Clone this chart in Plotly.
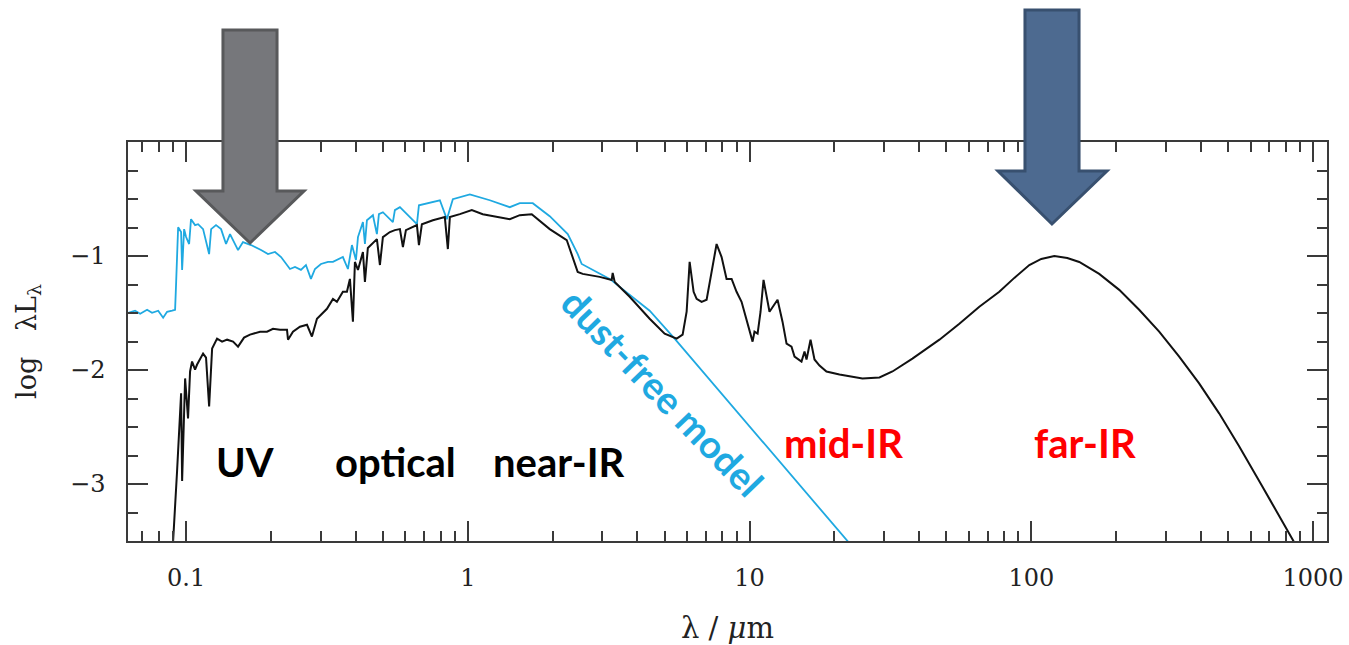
import numpy as np
import plotly.graph_objects as go

# ---- data (wavelength in micron, log lambda*L_lambda) ----
dustfree_wl = [0.0623, 0.0659, 0.0687, 0.0727, 0.0757, 0.0796, 0.0829, 0.0856, 0.0892, 0.0914,
               0.0922, 0.0937, 0.0960, 0.0968, 0.0984, 0.1000, 0.1025, 0.1041, 0.1076, 0.1103,
               0.1149, 0.1168, 0.1207, 0.1227, 0.1277, 0.1331, 0.1386, 0.1432, 0.1529, 0.1592,
               0.1700, 0.1845, 0.1953, 0.2068, 0.2173, 0.2337, 0.2435, 0.2556, 0.2663, 0.2774,
               0.2867, 0.3011, 0.3189, 0.3321, 0.3602, 0.3753, 0.3878, 0.4008, 0.4074, 0.4243,
               0.4313, 0.4384, 0.4604, 0.4756, 0.4835, 0.4995, 0.5420, 0.5509, 0.5740, 0.6596,
               0.6706, 0.7958, 0.8424, 0.8847, 1.0165, 1.197, 1.409, 1.529, 1.700, 1.953,
               2.263, 2.455, 2.536, 3.188, 4.420, 5.420, 7.215, 21.72, 23.0]
dustfree_logL = [-1.498, -1.480, -1.507, -1.472, -1.498, -1.480, -1.541, -1.489, -1.480, -1.472,
                 -1.227, -0.747, -0.790, -1.122, -0.764, -0.834, -0.895, -0.677, -0.729, -0.721,
                 -0.764, -0.834, -0.983, -0.764, -0.729, -0.764, -0.895, -0.808, -0.948, -0.878,
                 -0.904, -0.948, -0.983, -0.965, -1.009, -1.114, -1.096, -1.122, -1.079, -1.201,
                 -1.114, -1.070, -1.052, -1.052, -1.009, -1.114, -0.904, -1.035, -0.834, -0.703,
                 -0.895, -0.686, -0.642, -0.808, -0.633, -0.616, -0.703, -0.598, -0.572, -0.721,
                 -0.555, -0.511, -0.677, -0.502, -0.459, -0.511, -0.572, -0.537, -0.537, -0.651,
                 -0.808, -0.983, -1.070, -1.201, -1.480, -1.725, -2.083, -3.472, -3.541]

dusty_wl = [0.0880, 0.0899, 0.0929, 0.0952, 0.0960, 0.0968, 0.0984, 0.0992, 0.1016, 0.1033,
            0.1050, 0.1076, 0.1094, 0.1121, 0.1149, 0.1177, 0.1207, 0.1237, 0.1288, 0.1342,
            0.1398, 0.1468, 0.1529, 0.1606, 0.1686, 0.1830, 0.1937, 0.2035, 0.2154, 0.2281,
            0.2300, 0.2395, 0.2536, 0.2686, 0.2797, 0.2914, 0.3036, 0.3162, 0.3321, 0.3431,
            0.3602, 0.3723, 0.3815, 0.3878, 0.3910, 0.3974, 0.4074, 0.4243, 0.4313, 0.4417,
            0.4566, 0.4756, 0.4875, 0.4995, 0.5289, 0.5509, 0.5740, 0.5883, 0.6029, 0.6596,
            0.6706, 0.6870, 0.7515, 0.8286, 0.8494, 0.8634, 0.9368, 0.9919, 1.033, 1.130,
            1.409, 1.529, 1.686, 1.953, 2.244, 2.455, 2.557, 2.938, 3.241, 3.267,
            3.321, 3.754, 4.420, 4.995, 5.511, 5.787, 5.979, 6.128, 6.330, 6.489,
            6.757, 7.040, 7.331, 7.638, 7.957, 8.287, 8.636, 8.992, 9.367, 10.0,
            10.25, 10.41, 10.68, 10.94, 11.21, 11.77, 12.57, 13.09, 13.53, 14.09,
            14.44, 15.29, 15.67, 15.93, 16.46, 17.00, 17.71, 18.75, 20.85, 25.16,
            28.91, 32.15, 37.85, 47.20, 55.55, 65.40, 77.0, 87.05, 98.4, 108.5,
            120.7, 134.2, 148.0, 174.2, 205.2, 241.5, 284.4, 334.9, 394.2, 464.2,
            546.6, 659.4, 757.5, 870.8]
dusty_logL = [-3.60, -3.507, -2.886, -2.275, -2.205, -2.974, -2.188, -2.074, -2.424, -2.013,
              -1.926, -1.996, -1.952, -1.908, -1.856, -1.891, -2.319, -1.812, -1.725, -1.751,
              -1.734, -1.751, -1.795, -1.716, -1.690, -1.664, -1.664, -1.638, -1.646, -1.646,
              -1.734, -1.664, -1.620, -1.603, -1.707, -1.550, -1.507, -1.463, -1.376, -1.402,
              -1.314, -1.314, -1.201, -1.402, -1.576, -1.052, -1.122, -0.965, -1.227, -0.930,
              -0.895, -0.852, -1.079, -0.834, -0.790, -0.773, -0.764, -0.921, -0.773, -0.729,
              -0.904, -0.721, -0.686, -0.659, -0.939, -0.659, -0.633, -0.616, -0.598, -0.633,
              -0.677, -0.642, -0.633, -0.764, -0.860, -1.140, -1.157, -1.183, -1.210, -1.148,
              -1.227, -1.358, -1.550, -1.681, -1.725, -1.690, -1.489, -1.052, -1.314, -1.376,
              -1.402, -1.384, -1.140, -0.895, -1.009, -1.201, -1.201, -1.314, -1.402, -1.646,
              -1.751, -1.664, -1.681, -1.489, -1.210, -1.489, -1.384, -1.576, -1.769, -1.795,
              -1.882, -1.926, -1.838, -1.908, -1.734, -1.908, -1.961, -2.013, -2.039, -2.074,
              -2.066, -2.013, -1.900, -1.734, -1.594, -1.445, -1.314, -1.192, -1.079, -1.026,
              -1.000, -1.017, -1.052, -1.157, -1.297, -1.472, -1.664, -1.882, -2.118, -2.380,
              -2.668, -3.017, -3.279, -3.541]

x_tickvals = [0.1, 1, 10, 100, 1000]
x_ticktext = ["0.1", "1", "10", "100", "1000"]
y_tickvals = [-1, -2, -3]
y_ticktext = ["\u22121", "\u22122", "\u22123"]

x_minor = [m * 10.0 ** e for e in range(-2, 4) for m in range(2, 10)]
x_minor = [v for v in x_minor if 0.062 < v < 1121]
y_minor = [v for v in np.arange(-3.5, 0.01, 0.25) if abs(v - round(v)) > 1e-6]

CYAN = "#1fa9e1"

fig = go.Figure()
fig.add_trace(go.Scatter(x=dustfree_wl, y=dustfree_logL, mode="lines",
                         line=dict(color=CYAN, width=1.8), hoverinfo="skip", showlegend=False))
fig.add_trace(go.Scatter(x=dusty_wl, y=dusty_logL, mode="lines",
                         line=dict(color="#111111", width=2), hoverinfo="skip", showlegend=False))

axis_common = dict(showline=True, linecolor="#3a3a3a", linewidth=1.5, mirror="ticks",
                   ticks="inside", ticklen=20, tickwidth=1.5, tickcolor="#3a3a3a",
                   showgrid=False, zeroline=False,
                   tickfont=dict(family="DejaVu Serif", size=24, color="#222"))

fig.update_xaxes(type="log", range=[np.log10(0.0622), np.log10(1121)],
                 tickmode="array", tickvals=x_tickvals, ticktext=x_ticktext,
                 ticklabelstandoff=14,
                 minor=dict(tickmode="array", tickvals=x_minor, ticks="inside", ticklen=10,
                            tickwidth=1.5, tickcolor="#3a3a3a"),
                 title=dict(text="\u03bb / <i>\u03bc</i>m", standoff=30,
                            font=dict(family="DejaVu Serif", size=29, color="#222")),
                 **axis_common)
fig.update_yaxes(range=[-3.5, 0], tickmode="array", tickvals=y_tickvals, ticktext=y_ticktext,
                 ticklabelstandoff=16,
                 minor=dict(tickmode="array", tickvals=y_minor, ticks="inside", ticklen=10,
                            tickwidth=1.5, tickcolor="#3a3a3a"),
                 title=dict(text="log   \u03bbL<sub>\u03bb</sub>", standoff=26,
                            font=dict(family="DejaVu Serif", size=27, color="#222")),
                 **axis_common)

W, H = 1349, 645
L, R, T, B = 128, 22, 142, 104
pw, ph = W - L - R, H - T - B


def px(x):
    return (x - L) / pw


def py(y):
    return (H - B - y) / ph


def arrow(pts):
    return "M " + " L ".join(f"{px(a):.4f},{py(b):.4f}" for a, b in pts) + " Z"


gray_arrow = [(223, 30), (277, 30), (277, 191), (304, 191), (250, 243), (196, 191), (223, 191)]
blue_arrow = [(1025, 10), (1079, 10), (1079, 171), (1107, 171), (1052, 224), (998, 171), (1025, 171)]
fig.add_shape(type="path", xref="paper", yref="paper", path=arrow(gray_arrow),
              fillcolor="#76777b", line=dict(color="#58595b", width=3), layer="above")
fig.add_shape(type="path", xref="paper", yref="paper", path=arrow(blue_arrow),
              fillcolor="#4d6a90", line=dict(color="#38506f", width=3), layer="above")

labels = [("UV", 245, 462, "#000000"), ("optical", 395, 462, "#000000"),
          ("near-IR", 559, 462, "#000000"), ("mid-IR", 844, 443, "#ff0000"),
          ("far-IR", 1085, 443, "#ff0000")]
for txt, x, y, c in labels:
    fig.add_annotation(text=f"<b>{txt}</b>", xref="paper", yref="paper", x=px(x), y=py(y),
                       showarrow=False, xanchor="center", yanchor="middle",
                       font=dict(family="Lato", size=40, color=c))
fig.add_annotation(text="<b>dust-free model</b>", xref="paper", yref="paper",
                   x=px(663), y=py(392), showarrow=False, textangle=46,
                   xanchor="center", yanchor="middle",
                   font=dict(family="Lato", size=38, color=CYAN))

fig.update_layout(width=W, height=H, margin=dict(l=L, r=R, t=T, b=B, autoexpand=False),
                  paper_bgcolor="white", plot_bgcolor="white", showlegend=False)

fig.write_html("out.html")
